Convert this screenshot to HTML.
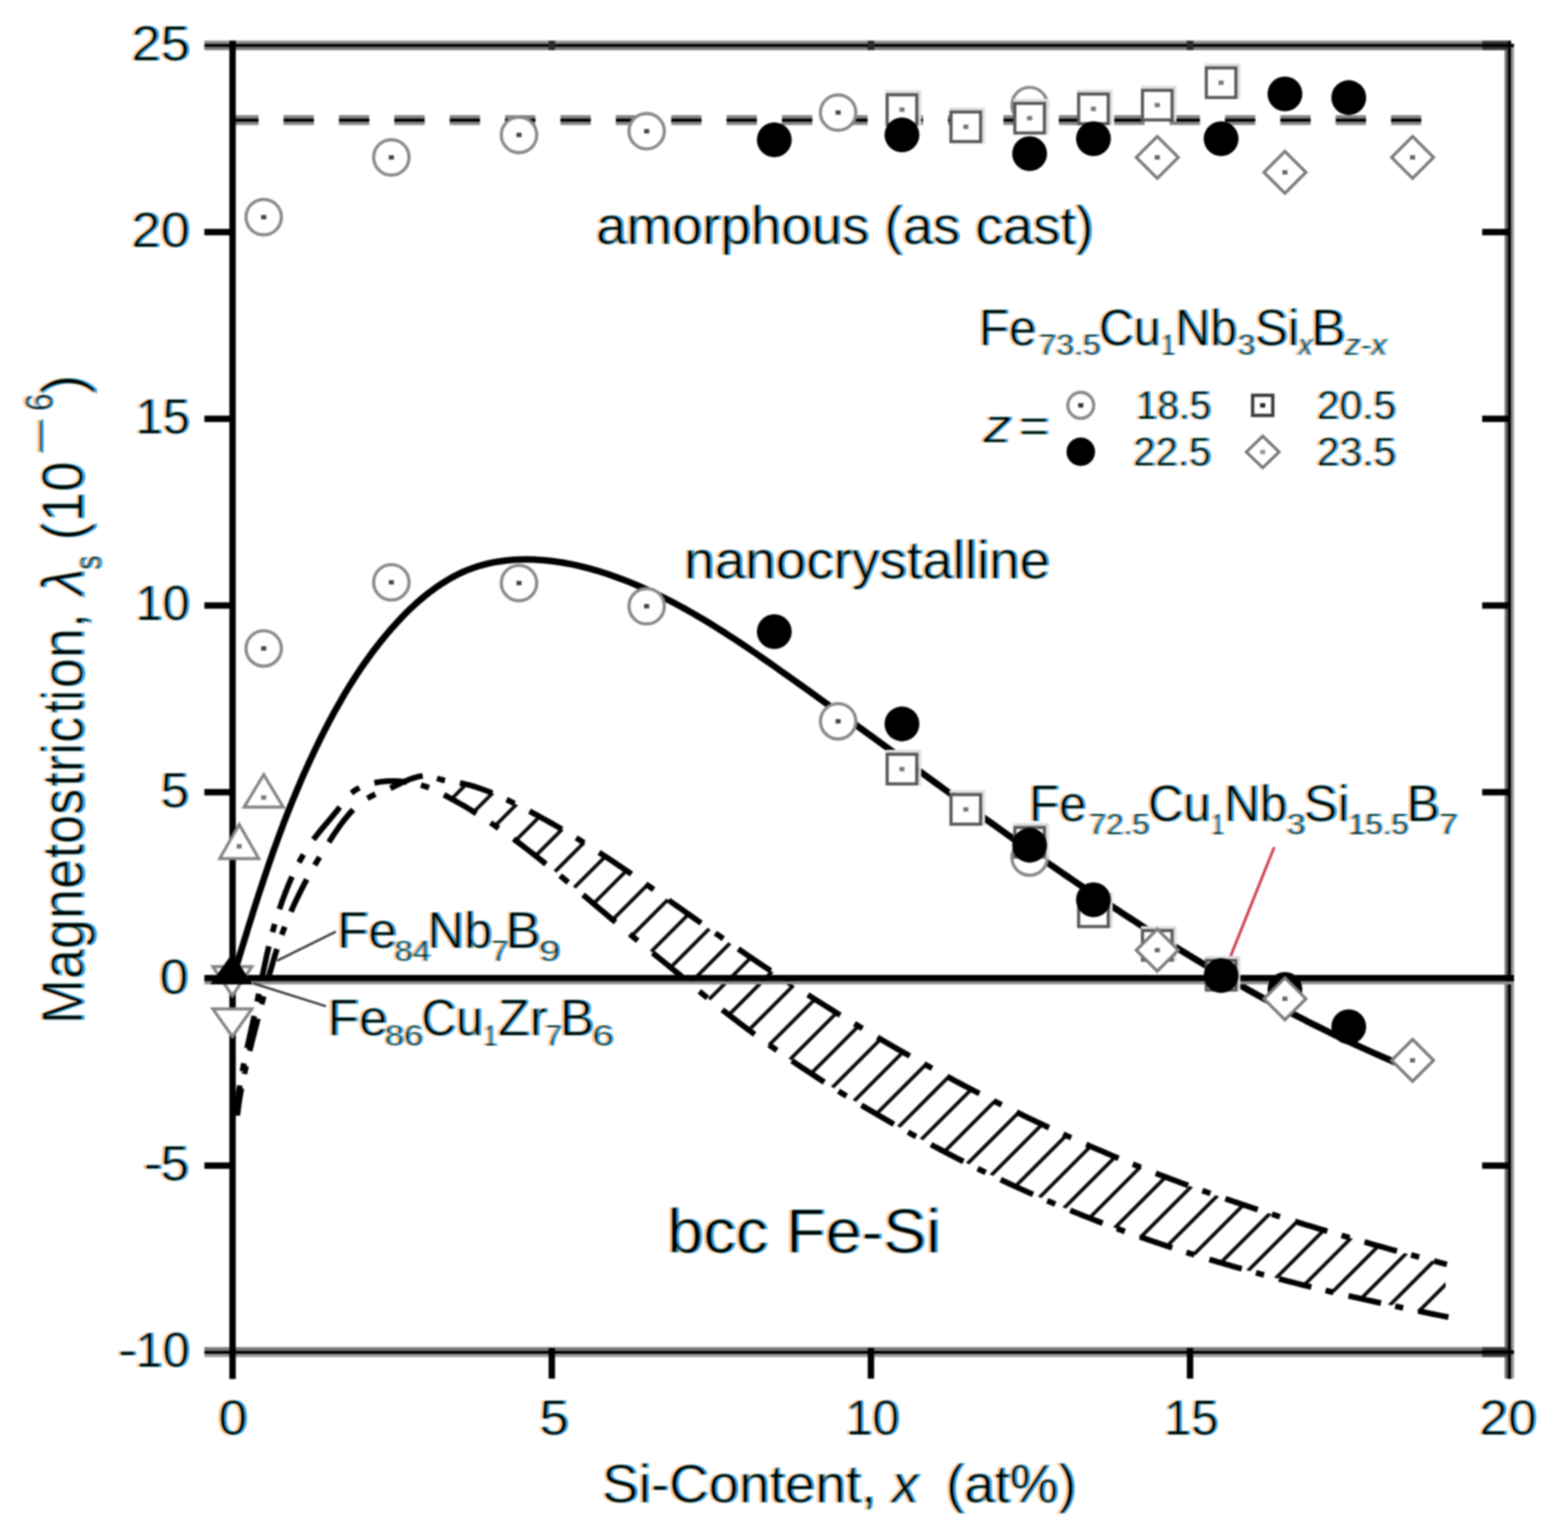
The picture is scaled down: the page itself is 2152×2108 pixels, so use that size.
<!DOCTYPE html>
<html lang="en">
<head>
<meta charset="utf-8">
<title>Magnetostriction vs Si-Content</title>
<style>
html,body{margin:0;padding:0;background:#fff;}
body{width:2152px;height:2108px;overflow:hidden;}
svg{display:block;}
#chart{filter:blur(0.9px);}
</style>
</head>
<body>
<svg xmlns="http://www.w3.org/2000/svg" width="2152" height="2108" viewBox="0 0 2152 2108">
<rect width="2152" height="2108" fill="#fff"/>
<g id="chart">
<rect width="2152" height="2108" fill="#fff"/>
<rect x="318" y="158" width="36.8" height="13.6" fill="#858585"/>
<rect x="318" y="162.8" width="36.8" height="4.2" fill="#000"/>
<rect x="389.2" y="158" width="41.6" height="13.6" fill="#858585"/>
<rect x="389.2" y="162.8" width="41.6" height="4.2" fill="#000"/>
<rect x="465.2" y="158" width="41.6" height="13.6" fill="#858585"/>
<rect x="465.2" y="162.8" width="41.6" height="4.2" fill="#000"/>
<rect x="541.2" y="158" width="41.6" height="13.6" fill="#858585"/>
<rect x="541.2" y="162.8" width="41.6" height="4.2" fill="#000"/>
<rect x="617.2" y="158" width="41.6" height="13.6" fill="#858585"/>
<rect x="617.2" y="162.8" width="41.6" height="4.2" fill="#000"/>
<rect x="693.2" y="158" width="41.6" height="13.6" fill="#858585"/>
<rect x="693.2" y="162.8" width="41.6" height="4.2" fill="#000"/>
<rect x="769.2" y="158" width="41.6" height="13.6" fill="#858585"/>
<rect x="769.2" y="162.8" width="41.6" height="4.2" fill="#000"/>
<rect x="845.2" y="158" width="41.6" height="13.6" fill="#858585"/>
<rect x="845.2" y="162.8" width="41.6" height="4.2" fill="#000"/>
<rect x="921.2" y="158" width="41.6" height="13.6" fill="#858585"/>
<rect x="921.2" y="162.8" width="41.6" height="4.2" fill="#000"/>
<rect x="997.2" y="158" width="41.6" height="13.6" fill="#858585"/>
<rect x="997.2" y="162.8" width="41.6" height="4.2" fill="#000"/>
<rect x="1073.2" y="158" width="41.6" height="13.6" fill="#858585"/>
<rect x="1073.2" y="162.8" width="41.6" height="4.2" fill="#000"/>
<rect x="1149.2" y="158" width="41.6" height="13.6" fill="#858585"/>
<rect x="1149.2" y="162.8" width="41.6" height="4.2" fill="#000"/>
<rect x="1225.2" y="158" width="41.6" height="13.6" fill="#858585"/>
<rect x="1225.2" y="162.8" width="41.6" height="4.2" fill="#000"/>
<rect x="1301.2" y="158" width="41.6" height="13.6" fill="#858585"/>
<rect x="1301.2" y="162.8" width="41.6" height="4.2" fill="#000"/>
<rect x="1377.2" y="158" width="41.6" height="13.6" fill="#858585"/>
<rect x="1377.2" y="162.8" width="41.6" height="4.2" fill="#000"/>
<rect x="1453.2" y="158" width="41.6" height="13.6" fill="#858585"/>
<rect x="1453.2" y="162.8" width="41.6" height="4.2" fill="#000"/>
<rect x="1529.2" y="158" width="41.6" height="13.6" fill="#858585"/>
<rect x="1529.2" y="162.8" width="41.6" height="4.2" fill="#000"/>
<rect x="1605.2" y="158" width="41.6" height="13.6" fill="#858585"/>
<rect x="1605.2" y="162.8" width="41.6" height="4.2" fill="#000"/>
<rect x="1681.2" y="158" width="41.6" height="13.6" fill="#858585"/>
<rect x="1681.2" y="162.8" width="41.6" height="4.2" fill="#000"/>
<rect x="1757.2" y="158" width="41.6" height="13.6" fill="#858585"/>
<rect x="1757.2" y="162.8" width="41.6" height="4.2" fill="#000"/>
<rect x="1833.2" y="158" width="41.6" height="13.6" fill="#858585"/>
<rect x="1833.2" y="162.8" width="41.6" height="4.2" fill="#000"/>
<rect x="1909.2" y="158" width="41.3" height="13.6" fill="#858585"/>
<rect x="1909.2" y="162.8" width="41.3" height="4.2" fill="#000"/>
<path d="M319.1 1343.8 L321.2 1336.7 L323.3 1329.7 L325.5 1322.6 L327.6 1315.6 L329.7 1308.6 L331.9 1301.7 L334 1294.7 L336.1 1287.7 L338.3 1280.8 L340.4 1273.8 L342.6 1266.9 L344.8 1260 L346.9 1253.1 L349.1 1246.2 L351.3 1239.4 L353.5 1232.5 L355.7 1225.7 L358 1218.8 L360.2 1212 L362.5 1205.2 L364.8 1198.4 L367.1 1191.6 L369.4 1184.8 L371.8 1178 L374.1 1171.2 L376.5 1164.5 L379 1157.7 L381.4 1151 L383.9 1144.3 L386.4 1137.6 L388.9 1130.8 L391.5 1124.1 L394.1 1117.4 L396.7 1110.8 L399.4 1104.1 L402.1 1097.4 L404.9 1090.8 L407.7 1084.1 L410.5 1077.4 L413.3 1070.8 L416.2 1064.1 L419.2 1057.5 L422.2 1050.9 L425.2 1044.2 L428.3 1037.6 L431.4 1031 L434.6 1024.4 L437.8 1017.7 L441.1 1011.1 L444.4 1004.5 L447.8 998 L451.2 991.4 L454.7 984.9 L458.2 978.3 L461.8 971.9 L465.5 965.4 L469.2 959 L472.9 952.6 L476.7 946.2 L480.6 939.9 L484.6 933.7 L488.6 927.4 L492.7 921.3 L496.8 915.1 L501 909.1 L505.3 903.1 L509.6 897.1 L514 891.2 L518.5 885.4 L523.1 879.6 L527.7 874 L532.4 868.4 L537.2 862.8 L542 857.4 L547 852 L552 846.7 L557 841.5 L562.2 836.4 L567.5 831.5 L572.8 826.7 L578.2 822 L583.7 817.4 L589.3 813 L594.9 808.8 L600.7 804.7 L606.5 800.8 L612.5 797.1 L618.5 793.5 L624.6 790.2 L630.8 787.1 L637.1 784.2 L643.5 781.6 L650 779.2 L656.6 777 L663.3 775.1 L670 773.4 L676.9 771.9 L683.8 770.7 L690.8 769.7 L697.8 768.9 L704.9 768.3 L712 768 L719.2 767.8 L726.4 767.8 L733.6 768 L740.8 768.4 L748.1 769 L755.3 769.8 L762.6 770.7 L769.8 771.8 L777 773 L784.2 774.4 L791.4 775.9 L798.6 777.6 L805.7 779.4 L812.8 781.3 L819.8 783.3 L826.8 785.5 L833.8 787.8 L840.8 790.2 L847.7 792.7 L854.6 795.2 L861.4 797.9 L868.2 800.7 L874.9 803.5 L881.6 806.4 L888.3 809.4 L894.9 812.4 L901.4 815.6 L908 818.7 L914.4 822 L920.9 825.3 L927.3 828.6 L933.7 832.1 L940 835.5 L946.3 839.1 L952.6 842.6 L958.8 846.3 L965 849.9 L971.2 853.7 L977.3 857.4 L983.4 861.2 L989.5 865.1 L995.6 868.9 L1001.7 872.9 L1007.7 876.8 L1013.7 880.8 L1019.7 884.8 L1025.7 888.8 L1031.7 892.9 L1037.6 896.9 L1043.5 901 L1049.5 905.2 L1055.4 909.3 L1061.3 913.4 L1067.2 917.6 L1073.1 921.8 L1079 926 L1084.9 930.1 L1090.8 934.3 L1096.6 938.5 L1102.5 942.7 L1108.4 946.9 L1114.3 951.2 L1120.1 955.4 L1126 959.6 L1131.9 963.8 L1137.7 968.1 L1143.6 972.3 L1149.5 976.5 L1155.3 980.8 L1161.2 985 L1167 989.3 L1172.9 993.5 L1178.7 997.8 L1184.6 1002 L1190.4 1006.3 L1196.3 1010.5 L1202.2 1014.8 L1208 1019.1 L1213.9 1023.3 L1219.7 1027.6 L1225.6 1031.8 L1231.4 1036.1 L1237.3 1040.4 L1243.1 1044.6 L1249 1048.9 L1254.8 1053.2 L1260.7 1057.4 L1266.5 1061.7 L1272.4 1065.9 L1278.2 1070.2 L1284.1 1074.5 L1290 1078.7 L1295.8 1083 L1301.7 1087.2 L1307.6 1091.5 L1313.4 1095.7 L1319.3 1100 L1325.2 1104.2 L1331 1108.4 L1336.9 1112.7 L1342.8 1116.9 L1348.7 1121.1 L1354.6 1125.3 L1360.5 1129.5 L1366.3 1133.7 L1372.2 1137.9 L1378.1 1142.1 L1384 1146.3 L1389.9 1150.5 L1395.9 1154.7 L1401.8 1158.9 L1407.7 1163 L1413.6 1167.2 L1419.5 1171.3 L1425.5 1175.5 L1431.4 1179.6 L1437.3 1183.8 L1443.3 1187.9 L1449.2 1192 L1455.2 1196.1 L1461.2 1200.2 L1467.1 1204.3 L1473.1 1208.4 L1479.1 1212.4 L1485.1 1216.5 L1491 1220.5 L1497 1224.6 L1503 1228.6 L1509.1 1232.6 L1515.1 1236.6 L1521.1 1240.6 L1527.1 1244.6 L1533.2 1248.6 L1539.2 1252.5 L1545.2 1256.5 L1551.3 1260.4 L1557.4 1264.3 L1563.4 1268.3 L1569.5 1272.2 L1575.6 1276 L1581.7 1279.9 L1587.8 1283.8 L1593.9 1287.6 L1600 1291.4 L1606.2 1295.3 L1612.3 1299.1 L1618.5 1302.8 L1624.6 1306.6 L1630.8 1310.4 L1636.9 1314.1 L1643.1 1317.8 L1649.3 1321.6 L1655.5 1325.2 L1661.7 1328.9 L1668 1332.6 L1674.2 1336.2 L1680.4 1339.8 L1686.7 1343.5 L1692.9 1347 L1699.2 1350.6 L1705.5 1354.2 L1711.8 1357.7 L1718.1 1361.2 L1724.4 1364.7 L1730.7 1368.2 L1737.1 1371.7 L1743.4 1375.1 L1749.8 1378.5 L1756.1 1381.9 L1762.5 1385.3 L1768.9 1388.7 L1775.3 1392 L1781.8 1395.3 L1788.2 1398.6 L1794.6 1401.9 L1801.1 1405.2 L1807.6 1408.4 L1814 1411.6 L1820.5 1414.8 L1827 1418 L1833.6 1421.1 L1840.1 1424.3 L1846.7 1427.4 L1853.2 1430.4 L1859.8 1433.5 L1866.4 1436.5 L1873 1439.5 L1879.6 1442.5 L1886.2 1445.5 L1892.9 1448.4 L1899.6 1451.3 L1906.2 1454.2 L1912.9 1457 L1919.6 1459.9 L1926.3 1462.7 L1933.1 1465.4 L1939.8 1468.2" fill="none" stroke="#000" stroke-width="9" stroke-linejoin="round"/>
<clipPath id="band"><path d="M601.6 1068.7 L603.9 1069.5 L606.1 1070.1 L608.3 1070.7 L610.6 1071.3 L612.8 1071.7 L615 1072.1 L617.3 1072.5 L619.5 1072.8 L621.7 1073.2 L623.9 1073.5 L626.2 1073.8 L628.4 1074.2 L630.6 1074.5 L632.8 1074.9 L635.1 1075.4 L637.3 1075.8 L639.5 1076.3 L641.7 1076.9 L643.9 1077.4 L646.1 1078 L648.4 1078.6 L650.6 1079.3 L652.8 1080 L655 1080.7 L657.2 1081.4 L659.4 1082.2 L661.6 1083 L663.8 1083.8 L666 1084.6 L668.2 1085.5 L670.4 1086.3 L672.6 1087.2 L674.8 1088.2 L677 1089.1 L679.2 1090 L681.4 1091 L683.5 1092 L685.7 1092.9 L687.9 1093.9 L690.1 1094.9 L692.3 1096 L694.4 1097 L696.6 1098 L698.8 1099.1 L700.9 1100.1 L703.1 1101.2 L705.3 1102.3 L707.4 1103.3 L709.6 1104.4 L711.7 1105.5 L713.9 1106.6 L716 1107.7 L718.2 1108.8 L720.3 1109.9 L722.5 1111 L724.6 1112.1 L726.7 1113.3 L728.9 1114.4 L731 1115.5 L733.1 1116.7 L735.3 1117.8 L737.4 1119 L739.5 1120.1 L741.6 1121.3 L743.7 1122.5 L745.9 1123.6 L748 1124.8 L750.1 1126 L752.2 1127.2 L754.3 1128.4 L756.4 1129.5 L758.4 1130.7 L760.5 1131.9 L762.6 1133.2 L764.7 1134.4 L766.8 1135.6 L768.9 1136.8 L770.9 1138 L773 1139.2 L775.1 1140.5 L777.1 1141.7 L779.2 1142.9 L781.2 1144.2 L783.3 1145.4 L785.3 1146.6 L787.4 1147.9 L789.4 1149.1 L791.5 1150.4 L793.5 1151.6 L795.5 1152.9 L797.5 1154.2 L799.6 1155.4 L801.6 1156.7 L803.6 1158 L805.6 1159.2 L807.6 1160.5 L809.7 1161.8 L811.7 1163.1 L813.7 1164.4 L815.7 1165.6 L817.7 1166.9 L819.7 1168.2 L821.7 1169.5 L823.7 1170.8 L825.7 1172.1 L827.6 1173.4 L829.6 1174.7 L831.6 1176 L833.6 1177.3 L835.6 1178.6 L837.5 1179.9 L839.5 1181.2 L841.5 1182.6 L843.5 1183.9 L845.4 1185.2 L847.4 1186.5 L849.4 1187.8 L851.3 1189.2 L853.3 1190.5 L855.2 1191.8 L857.2 1193.1 L859.2 1194.5 L861.1 1195.8 L863.1 1197.1 L865 1198.5 L867 1199.8 L868.9 1201.2 L870.9 1202.5 L872.8 1203.8 L874.7 1205.2 L876.7 1206.5 L878.6 1207.9 L880.6 1209.2 L882.5 1210.6 L884.4 1211.9 L886.4 1213.3 L888.3 1214.6 L890.2 1216 L892.2 1217.3 L894.1 1218.7 L896 1220 L898 1221.4 L899.9 1222.7 L901.8 1224.1 L903.7 1225.4 L905.7 1226.8 L907.6 1228.2 L909.5 1229.5 L911.4 1230.9 L913.4 1232.2 L915.3 1233.6 L917.2 1235 L919.1 1236.3 L921.1 1237.7 L923 1239.1 L924.9 1240.4 L926.8 1241.8 L928.7 1243.1 L930.7 1244.5 L932.6 1245.9 L934.5 1247.2 L936.4 1248.6 L938.3 1250 L940.3 1251.3 L942.2 1252.7 L944.1 1254 L946 1255.4 L948 1256.8 L949.9 1258.1 L951.8 1259.5 L953.7 1260.9 L955.6 1262.2 L957.6 1263.6 L959.5 1264.9 L961.4 1266.3 L963.3 1267.7 L965.3 1269 L967.2 1270.4 L969.1 1271.7 L971 1273.1 L973 1274.4 L974.9 1275.8 L976.8 1277.2 L978.8 1278.5 L980.7 1279.9 L982.6 1281.2 L984.6 1282.6 L986.5 1283.9 L988.4 1285.3 L990.4 1286.6 L992.3 1287.9 L994.2 1289.3 L996.2 1290.6 L998.1 1292 L1000.1 1293.3 L1002 1294.7 L1003.9 1296 L1005.9 1297.3 L1007.8 1298.7 L1009.8 1300 L1011.7 1301.3 L1013.7 1302.7 L1015.6 1304 L1017.6 1305.3 L1019.5 1306.7 L1021.5 1308 L1023.4 1309.3 L1025.4 1310.7 L1027.4 1312 L1029.3 1313.3 L1031.3 1314.6 L1033.2 1315.9 L1035.2 1317.3 L1037.2 1318.6 L1039.1 1319.9 L1041.1 1321.2 L1043.1 1322.5 L1045 1323.9 L1047 1325.2 L1049 1326.5 L1050.9 1327.8 L1052.9 1329.1 L1054.9 1330.4 L1056.9 1331.7 L1058.8 1333 L1060.8 1334.3 L1062.8 1335.6 L1064.8 1336.9 L1066.8 1338.2 L1068.7 1339.5 L1070.7 1340.8 L1072.7 1342.1 L1074.7 1343.4 L1076.7 1344.7 L1078.7 1346 L1080.6 1347.3 L1082.6 1348.6 L1084.6 1349.9 L1086.6 1351.2 L1088.6 1352.4 L1090.6 1353.7 L1092.6 1355 L1094.6 1356.3 L1096.6 1357.6 L1098.6 1358.8 L1100.6 1360.1 L1102.6 1361.4 L1104.6 1362.7 L1106.6 1364 L1108.6 1365.2 L1110.6 1366.5 L1112.6 1367.8 L1114.6 1369 L1116.6 1370.3 L1118.6 1371.6 L1120.6 1372.8 L1122.6 1374.1 L1124.6 1375.4 L1126.6 1376.6 L1128.6 1377.9 L1130.7 1379.1 L1132.7 1380.4 L1134.7 1381.6 L1136.7 1382.9 L1138.7 1384.1 L1140.7 1385.4 L1142.8 1386.6 L1144.8 1387.9 L1146.8 1389.1 L1148.8 1390.4 L1150.8 1391.6 L1152.9 1392.9 L1154.9 1394.1 L1156.9 1395.3 L1159 1396.6 L1161 1397.8 L1163 1399 L1165 1400.3 L1167.1 1401.5 L1169.1 1402.7 L1171.1 1404 L1173.2 1405.2 L1175.2 1406.4 L1177.2 1407.6 L1179.3 1408.9 L1181.3 1410.1 L1183.4 1411.3 L1185.4 1412.5 L1187.4 1413.7 L1189.5 1415 L1191.5 1416.2 L1193.6 1417.4 L1195.6 1418.6 L1197.7 1419.8 L1199.7 1421 L1201.8 1422.2 L1203.8 1423.4 L1205.9 1424.6 L1207.9 1425.8 L1210 1427 L1212 1428.2 L1214.1 1429.4 L1216.1 1430.6 L1218.2 1431.8 L1220.2 1433 L1222.3 1434.2 L1224.4 1435.4 L1226.4 1436.5 L1228.5 1437.7 L1230.6 1438.9 L1232.6 1440.1 L1234.7 1441.3 L1236.7 1442.5 L1238.8 1443.6 L1240.9 1444.8 L1242.9 1446 L1245 1447.2 L1247.1 1448.3 L1249.2 1449.5 L1251.2 1450.7 L1253.3 1451.8 L1255.4 1453 L1257.4 1454.1 L1259.5 1455.3 L1261.6 1456.5 L1263.7 1457.6 L1265.8 1458.8 L1267.8 1459.9 L1269.9 1461.1 L1272 1462.2 L1274.1 1463.4 L1276.2 1464.5 L1278.2 1465.7 L1280.3 1466.8 L1282.4 1468 L1284.5 1469.1 L1286.6 1470.2 L1288.7 1471.4 L1290.8 1472.5 L1292.9 1473.6 L1295 1474.8 L1297 1475.9 L1299.1 1477 L1301.2 1478.1 L1303.3 1479.3 L1305.4 1480.4 L1307.5 1481.5 L1309.6 1482.6 L1311.7 1483.8 L1313.8 1484.9 L1315.9 1486 L1318 1487.1 L1320.1 1488.2 L1322.2 1489.3 L1324.3 1490.4 L1326.4 1491.5 L1328.5 1492.6 L1330.7 1493.7 L1332.8 1494.8 L1334.9 1495.9 L1337 1497 L1339.1 1498.1 L1341.2 1499.2 L1343.3 1500.3 L1345.4 1501.4 L1347.5 1502.5 L1349.7 1503.5 L1351.8 1504.6 L1353.9 1505.7 L1356 1506.8 L1358.1 1507.9 L1360.3 1508.9 L1362.4 1510 L1364.5 1511.1 L1366.6 1512.2 L1368.7 1513.2 L1370.9 1514.3 L1373 1515.3 L1375.1 1516.4 L1377.2 1517.5 L1379.4 1518.5 L1381.5 1519.6 L1383.6 1520.6 L1385.8 1521.7 L1387.9 1522.7 L1390 1523.8 L1392.2 1524.8 L1394.3 1525.9 L1396.4 1526.9 L1398.6 1528 L1400.7 1529 L1402.8 1530 L1405 1531.1 L1407.1 1532.1 L1409.2 1533.1 L1411.4 1534.2 L1413.5 1535.2 L1415.7 1536.2 L1417.8 1537.2 L1420 1538.3 L1422.1 1539.3 L1424.2 1540.3 L1426.4 1541.3 L1428.5 1542.3 L1430.7 1543.3 L1432.8 1544.3 L1435 1545.4 L1437.1 1546.4 L1439.3 1547.4 L1441.4 1548.4 L1443.6 1549.4 L1445.7 1550.4 L1447.9 1551.4 L1450.1 1552.3 L1452.2 1553.3 L1454.4 1554.3 L1456.5 1555.3 L1458.7 1556.3 L1460.9 1557.3 L1463 1558.3 L1465.2 1559.2 L1467.3 1560.2 L1469.5 1561.2 L1471.7 1562.2 L1473.8 1563.1 L1476 1564.1 L1478.2 1565.1 L1480.3 1566 L1482.5 1567 L1484.7 1567.9 L1486.8 1568.9 L1489 1569.9 L1491.2 1570.8 L1493.3 1571.8 L1495.5 1572.7 L1497.7 1573.7 L1499.9 1574.6 L1502 1575.5 L1504.2 1576.5 L1506.4 1577.4 L1508.6 1578.4 L1510.7 1579.3 L1512.9 1580.2 L1515.1 1581.2 L1517.3 1582.1 L1519.5 1583 L1521.7 1583.9 L1523.8 1584.9 L1526 1585.8 L1528.2 1586.7 L1530.4 1587.6 L1532.6 1588.5 L1534.8 1589.4 L1536.9 1590.3 L1539.1 1591.2 L1541.3 1592.1 L1543.5 1593 L1545.7 1593.9 L1547.9 1594.8 L1550.1 1595.7 L1552.3 1596.6 L1554.5 1597.5 L1556.7 1598.4 L1558.9 1599.3 L1561.1 1600.2 L1563.3 1601.1 L1565.5 1601.9 L1567.7 1602.8 L1569.9 1603.7 L1572.1 1604.6 L1574.3 1605.4 L1576.5 1606.3 L1578.7 1607.2 L1580.9 1608 L1583.1 1608.9 L1585.3 1609.7 L1587.5 1610.6 L1589.7 1611.5 L1591.9 1612.3 L1594.1 1613.2 L1596.3 1614 L1598.5 1614.8 L1600.7 1615.7 L1602.9 1616.5 L1605.1 1617.4 L1607.4 1618.2 L1609.6 1619 L1611.8 1619.9 L1614 1620.7 L1616.2 1621.5 L1618.4 1622.4 L1620.6 1623.2 L1622.9 1624 L1625.1 1624.8 L1627.3 1625.7 L1629.5 1626.5 L1631.7 1627.3 L1633.9 1628.1 L1636.2 1628.9 L1638.4 1629.7 L1640.6 1630.5 L1642.8 1631.3 L1645.1 1632.1 L1647.3 1632.9 L1649.5 1633.7 L1651.7 1634.5 L1654 1635.3 L1656.2 1636.1 L1658.4 1636.9 L1660.6 1637.7 L1662.9 1638.5 L1665.1 1639.3 L1667.3 1640.1 L1669.6 1640.8 L1671.8 1641.6 L1674 1642.4 L1676.3 1643.2 L1678.5 1644 L1680.7 1644.7 L1683 1645.5 L1685.2 1646.3 L1687.4 1647 L1689.7 1647.8 L1691.9 1648.6 L1694.2 1649.3 L1696.4 1650.1 L1698.6 1650.8 L1700.9 1651.6 L1703.1 1652.4 L1705.4 1653.1 L1707.6 1653.9 L1709.8 1654.6 L1712.1 1655.4 L1714.3 1656.1 L1716.6 1656.9 L1718.8 1657.6 L1721.1 1658.3 L1723.3 1659.1 L1725.6 1659.8 L1727.8 1660.6 L1730.1 1661.3 L1732.3 1662 L1734.6 1662.8 L1736.8 1663.5 L1739.1 1664.2 L1741.3 1664.9 L1743.6 1665.7 L1745.8 1666.4 L1748.1 1667.1 L1750.3 1667.8 L1752.6 1668.6 L1754.9 1669.3 L1757.1 1670 L1759.4 1670.7 L1761.6 1671.4 L1763.9 1672.1 L1766.2 1672.8 L1768.4 1673.5 L1770.7 1674.3 L1772.9 1675 L1775.2 1675.7 L1777.5 1676.4 L1779.7 1677.1 L1782 1677.8 L1784.3 1678.5 L1786.5 1679.2 L1788.8 1679.9 L1791.1 1680.6 L1793.3 1681.2 L1795.6 1681.9 L1797.9 1682.6 L1800.1 1683.3 L1802.4 1684 L1804.7 1684.7 L1806.9 1685.4 L1809.2 1686.1 L1811.5 1686.7 L1813.8 1687.4 L1816 1688.1 L1818.3 1688.8 L1820.6 1689.4 L1822.9 1690.1 L1825.1 1690.8 L1827.4 1691.5 L1829.7 1692.1 L1832 1692.8 L1834.2 1693.5 L1836.5 1694.1 L1838.8 1694.8 L1841.1 1695.5 L1843.4 1696.1 L1845.6 1696.8 L1847.9 1697.5 L1850.2 1698.1 L1852.5 1698.8 L1854.8 1699.4 L1857.1 1700.1 L1859.3 1700.8 L1861.6 1701.4 L1863.9 1702.1 L1866.2 1702.7 L1868.5 1703.4 L1870.8 1704 L1873.1 1704.7 L1875.3 1705.3 L1877.6 1706 L1879.9 1706.6 L1882.2 1707.2 L1884.5 1707.9 L1886.8 1708.5 L1889.1 1709.2 L1891.4 1709.8 L1893.7 1710.5 L1896 1711.1 L1898.3 1711.7 L1900.6 1712.4 L1902.9 1713 L1905.2 1713.6 L1907.4 1714.3 L1909.7 1714.9 L1912 1715.5 L1914.3 1716.2 L1916.6 1716.8 L1918.9 1717.4 L1921.2 1718 L1923.5 1718.7 L1925.8 1719.3 L1928.1 1719.9 L1930.4 1720.5 L1932.7 1721.2 L1935 1721.8 L1937.4 1722.4 L1939.7 1723 L1942 1723.6 L1944.3 1724.3 L1946.6 1724.9 L1948.9 1725.5 L1951.2 1726.1 L1953.5 1726.7 L1955.8 1727.3 L1958.1 1727.9 L1960.4 1728.6 L1962.7 1729.2 L1965 1729.8 L1967.3 1730.4 L1969.7 1731 L1972 1731.6 L1974.3 1732.2 L1976.6 1732.8 L1978.9 1733.4 L1981.2 1734 L1983.5 1734.6 L1985.8 1735.2 L1984 1735.2 L1984 1807.6 L1987.9 1807.6 L1985.5 1807.2 L1983.1 1806.7 L1980.7 1806.2 L1978.3 1805.7 L1975.9 1805.2 L1973.4 1804.7 L1971 1804.3 L1968.6 1803.8 L1966.2 1803.3 L1963.8 1802.8 L1961.4 1802.3 L1959 1801.8 L1956.6 1801.3 L1954.2 1800.8 L1951.9 1800.3 L1949.5 1799.8 L1947.1 1799.3 L1944.7 1798.9 L1942.3 1798.4 L1939.9 1797.9 L1937.5 1797.4 L1935.1 1796.9 L1932.7 1796.4 L1930.3 1795.8 L1927.9 1795.3 L1925.5 1794.8 L1923.1 1794.3 L1920.7 1793.8 L1918.3 1793.3 L1915.9 1792.8 L1913.5 1792.3 L1911.1 1791.8 L1908.7 1791.3 L1906.4 1790.8 L1904 1790.2 L1901.6 1789.7 L1899.2 1789.2 L1896.8 1788.7 L1894.4 1788.2 L1892 1787.6 L1889.6 1787.1 L1887.2 1786.6 L1884.8 1786.1 L1882.5 1785.5 L1880.1 1785 L1877.7 1784.5 L1875.3 1784 L1872.9 1783.4 L1870.5 1782.9 L1868.2 1782.4 L1865.8 1781.8 L1863.4 1781.3 L1861 1780.7 L1858.6 1780.2 L1856.2 1779.7 L1853.9 1779.1 L1851.5 1778.6 L1849.1 1778 L1846.7 1777.5 L1844.3 1776.9 L1842 1776.4 L1839.6 1775.8 L1837.2 1775.3 L1834.8 1774.7 L1832.4 1774.2 L1830.1 1773.6 L1827.7 1773 L1825.3 1772.5 L1822.9 1771.9 L1820.6 1771.3 L1818.2 1770.8 L1815.8 1770.2 L1813.5 1769.6 L1811.1 1769.1 L1808.7 1768.5 L1806.3 1767.9 L1804 1767.4 L1801.6 1766.8 L1799.2 1766.2 L1796.9 1765.6 L1794.5 1765 L1792.1 1764.4 L1789.8 1763.9 L1787.4 1763.3 L1785 1762.7 L1782.7 1762.1 L1780.3 1761.5 L1777.9 1760.9 L1775.6 1760.3 L1773.2 1759.7 L1770.8 1759.1 L1768.5 1758.5 L1766.1 1757.9 L1763.8 1757.3 L1761.4 1756.7 L1759 1756.1 L1756.7 1755.5 L1754.3 1754.8 L1752 1754.2 L1749.6 1753.6 L1747.3 1753 L1744.9 1752.4 L1742.6 1751.8 L1740.2 1751.1 L1737.8 1750.5 L1735.5 1749.9 L1733.1 1749.2 L1730.8 1748.6 L1728.4 1748 L1726.1 1747.3 L1723.7 1746.7 L1721.4 1746.1 L1719 1745.4 L1716.7 1744.8 L1714.3 1744.1 L1712 1743.5 L1709.7 1742.8 L1707.3 1742.2 L1705 1741.5 L1702.6 1740.9 L1700.3 1740.2 L1697.9 1739.5 L1695.6 1738.9 L1693.3 1738.2 L1690.9 1737.5 L1688.6 1736.9 L1686.2 1736.2 L1683.9 1735.5 L1681.6 1734.8 L1679.2 1734.2 L1676.9 1733.5 L1674.6 1732.8 L1672.2 1732.1 L1669.9 1731.4 L1667.6 1730.7 L1665.2 1730 L1662.9 1729.3 L1660.6 1728.6 L1658.2 1727.9 L1655.9 1727.2 L1653.6 1726.5 L1651.3 1725.8 L1648.9 1725.1 L1646.6 1724.4 L1644.3 1723.7 L1642 1723 L1639.6 1722.2 L1637.3 1721.5 L1635 1720.8 L1632.7 1720.1 L1630.4 1719.3 L1628 1718.6 L1625.7 1717.9 L1623.4 1717.1 L1621.1 1716.4 L1618.8 1715.7 L1616.5 1714.9 L1614.1 1714.2 L1611.8 1713.4 L1609.5 1712.7 L1607.2 1711.9 L1604.9 1711.2 L1602.6 1710.4 L1600.3 1709.6 L1598 1708.9 L1595.7 1708.1 L1593.4 1707.3 L1591.1 1706.6 L1588.8 1705.8 L1586.4 1705 L1584.1 1704.2 L1581.8 1703.4 L1579.5 1702.7 L1577.2 1701.9 L1574.9 1701.1 L1572.6 1700.3 L1570.3 1699.5 L1568.1 1698.7 L1565.8 1697.9 L1563.5 1697.1 L1561.2 1696.3 L1558.9 1695.5 L1556.6 1694.6 L1554.3 1693.8 L1552 1693 L1549.7 1692.2 L1547.4 1691.4 L1545.1 1690.5 L1542.9 1689.7 L1540.6 1688.9 L1538.3 1688 L1536 1687.2 L1533.7 1686.3 L1531.4 1685.5 L1529.2 1684.6 L1526.9 1683.8 L1524.6 1682.9 L1522.3 1682.1 L1520 1681.2 L1517.8 1680.4 L1515.5 1679.5 L1513.2 1678.6 L1510.9 1677.8 L1508.7 1676.9 L1506.4 1676 L1504.1 1675.1 L1501.9 1674.2 L1499.6 1673.4 L1497.3 1672.5 L1495.1 1671.6 L1492.8 1670.7 L1490.5 1669.8 L1488.3 1668.9 L1486 1668 L1483.7 1667.1 L1481.5 1666.2 L1479.2 1665.3 L1477 1664.3 L1474.7 1663.4 L1472.5 1662.5 L1470.2 1661.6 L1467.9 1660.7 L1465.7 1659.7 L1463.4 1658.8 L1461.2 1657.9 L1458.9 1656.9 L1456.7 1656 L1454.4 1655.1 L1452.2 1654.1 L1450 1653.2 L1447.7 1652.2 L1445.5 1651.3 L1443.2 1650.3 L1441 1649.3 L1438.7 1648.4 L1436.5 1647.4 L1434.3 1646.5 L1432 1645.5 L1429.8 1644.5 L1427.6 1643.5 L1425.3 1642.6 L1423.1 1641.6 L1420.9 1640.6 L1418.6 1639.6 L1416.4 1638.6 L1414.2 1637.6 L1412 1636.6 L1409.7 1635.6 L1407.5 1634.6 L1405.3 1633.6 L1403.1 1632.6 L1400.8 1631.6 L1398.6 1630.6 L1396.4 1629.6 L1394.2 1628.6 L1392 1627.6 L1389.8 1626.6 L1387.5 1625.5 L1385.3 1624.5 L1383.1 1623.5 L1380.9 1622.5 L1378.7 1621.4 L1376.5 1620.4 L1374.3 1619.4 L1372.1 1618.3 L1369.9 1617.3 L1367.7 1616.2 L1365.5 1615.2 L1363.3 1614.1 L1361.1 1613.1 L1358.9 1612 L1356.7 1611 L1354.5 1609.9 L1352.3 1608.8 L1350.1 1607.8 L1347.9 1606.7 L1345.7 1605.6 L1343.5 1604.6 L1341.3 1603.5 L1339.1 1602.4 L1336.9 1601.3 L1334.8 1600.2 L1332.6 1599.2 L1330.4 1598.1 L1328.2 1597 L1326 1595.9 L1323.9 1594.8 L1321.7 1593.7 L1319.5 1592.6 L1317.3 1591.5 L1315.2 1590.4 L1313 1589.3 L1310.8 1588.2 L1308.6 1587.1 L1306.5 1585.9 L1304.3 1584.8 L1302.1 1583.7 L1300 1582.6 L1297.8 1581.5 L1295.7 1580.3 L1293.5 1579.2 L1291.3 1578.1 L1289.2 1576.9 L1287 1575.8 L1284.9 1574.7 L1282.7 1573.5 L1280.6 1572.4 L1278.4 1571.2 L1276.3 1570.1 L1274.1 1568.9 L1272 1567.8 L1269.8 1566.6 L1267.7 1565.4 L1265.5 1564.3 L1263.4 1563.1 L1261.2 1562 L1259.1 1560.8 L1257 1559.6 L1254.8 1558.4 L1252.7 1557.3 L1250.6 1556.1 L1248.4 1554.9 L1246.3 1553.7 L1244.2 1552.6 L1242 1551.4 L1239.9 1550.2 L1237.8 1549 L1235.7 1547.8 L1233.5 1546.6 L1231.4 1545.4 L1229.3 1544.2 L1227.2 1543 L1225.1 1541.8 L1223 1540.6 L1220.8 1539.4 L1218.7 1538.2 L1216.6 1537 L1214.5 1535.7 L1212.4 1534.5 L1210.3 1533.3 L1208.2 1532.1 L1206.1 1530.8 L1204 1529.6 L1201.9 1528.4 L1199.8 1527.2 L1197.7 1525.9 L1195.6 1524.7 L1193.5 1523.4 L1191.4 1522.2 L1189.3 1521 L1187.2 1519.7 L1185.1 1518.5 L1183 1517.2 L1180.9 1516 L1178.9 1514.7 L1176.8 1513.4 L1174.7 1512.2 L1172.6 1510.9 L1170.5 1509.7 L1168.5 1508.4 L1166.4 1507.1 L1164.3 1505.8 L1162.2 1504.6 L1160.2 1503.3 L1158.1 1502 L1156 1500.7 L1154 1499.4 L1151.9 1498.2 L1149.8 1496.9 L1147.8 1495.6 L1145.7 1494.3 L1143.6 1493 L1141.6 1491.7 L1139.5 1490.4 L1137.5 1489.1 L1135.4 1487.8 L1133.4 1486.4 L1131.3 1485.1 L1129.3 1483.8 L1127.2 1482.5 L1125.2 1481.2 L1123.1 1479.8 L1121.1 1478.5 L1119.1 1477.2 L1117 1475.9 L1115 1474.5 L1112.9 1473.2 L1110.9 1471.8 L1108.9 1470.5 L1106.9 1469.2 L1104.8 1467.8 L1102.8 1466.5 L1100.8 1465.1 L1098.7 1463.7 L1096.7 1462.4 L1094.7 1461 L1092.7 1459.7 L1090.7 1458.3 L1088.7 1456.9 L1086.6 1455.6 L1084.6 1454.2 L1082.6 1452.8 L1080.6 1451.4 L1078.6 1450 L1076.6 1448.6 L1074.6 1447.3 L1072.6 1445.9 L1070.6 1444.5 L1068.6 1443.1 L1066.6 1441.7 L1064.6 1440.3 L1062.6 1438.9 L1060.6 1437.4 L1058.6 1436 L1056.6 1434.6 L1054.6 1433.2 L1052.6 1431.8 L1050.7 1430.4 L1048.7 1428.9 L1046.7 1427.5 L1044.7 1426.1 L1042.7 1424.6 L1040.8 1423.2 L1038.8 1421.8 L1036.8 1420.3 L1034.8 1418.9 L1032.9 1417.4 L1030.9 1416 L1028.9 1414.5 L1027 1413 L1025 1411.6 L1023.1 1410.1 L1021.1 1408.6 L1019.1 1407.2 L1017.2 1405.7 L1015.2 1404.2 L1013.3 1402.7 L1011.3 1401.3 L1009.4 1399.8 L1007.4 1398.3 L1005.5 1396.8 L1003.6 1395.3 L1001.6 1393.8 L999.7 1392.3 L997.7 1390.8 L995.8 1389.3 L993.9 1387.8 L991.9 1386.3 L990 1384.7 L988.1 1383.2 L986.2 1381.7 L984.2 1380.2 L982.3 1378.6 L980.4 1377.1 L978.5 1375.6 L976.6 1374 L974.6 1372.5 L972.7 1370.9 L970.8 1369.4 L968.9 1367.8 L967 1366.3 L965.1 1364.7 L963.2 1363.2 L961.3 1361.6 L959.4 1360 L957.5 1358.5 L955.6 1356.9 L953.7 1355.3 L951.8 1353.7 L949.9 1352.2 L948 1350.6 L946.1 1349 L944.2 1347.4 L942.4 1345.9 L940.5 1344.3 L938.6 1342.7 L936.7 1341.2 L934.8 1339.6 L932.9 1338.1 L931.1 1336.5 L929.2 1335 L927.3 1333.4 L925.4 1331.9 L923.6 1330.3 L921.7 1328.8 L919.8 1327.3 L918 1325.7 L916.1 1324.2 L914.2 1322.7 L912.4 1321.2 L910.5 1319.7 L908.6 1318.1 L906.8 1316.6 L904.9 1315.1 L903.1 1313.6 L901.2 1312.1 L899.3 1310.6 L897.5 1309.1 L895.6 1307.5 L893.8 1306 L891.9 1304.5 L890 1303 L888.2 1301.5 L886.3 1300 L884.5 1298.5 L882.6 1297 L880.8 1295.5 L878.9 1293.9 L877.1 1292.4 L875.2 1290.9 L873.4 1289.4 L871.5 1287.9 L869.7 1286.3 L867.8 1284.8 L866 1283.3 L864.1 1281.8 L862.3 1280.2 L860.4 1278.7 L858.6 1277.1 L856.7 1275.6 L854.9 1274.1 L853 1272.5 L851.2 1271 L849.3 1269.4 L847.5 1267.9 L845.6 1266.3 L843.8 1264.8 L841.9 1263.2 L840.1 1261.6 L838.2 1260.1 L836.4 1258.5 L834.5 1257 L832.6 1255.4 L830.8 1253.8 L828.9 1252.3 L827.1 1250.7 L825.2 1249.1 L823.4 1247.6 L821.5 1246 L819.7 1244.4 L817.8 1242.9 L816 1241.3 L814.1 1239.7 L812.2 1238.1 L810.4 1236.6 L808.5 1235 L806.7 1233.4 L804.8 1231.9 L802.9 1230.3 L801.1 1228.7 L799.2 1227.1 L797.3 1225.6 L795.5 1224 L793.6 1222.4 L791.7 1220.9 L789.9 1219.3 L788 1217.7 L786.1 1216.2 L784.2 1214.6 L782.4 1213 L780.5 1211.5 L778.6 1209.9 L776.7 1208.3 L774.8 1206.8 L773 1205.2 L771.1 1203.7 L769.2 1202.1 L767.3 1200.6 L765.4 1199 L763.5 1197.5 L761.6 1195.9 L759.7 1194.4 L757.8 1192.8 L756 1191.3 L754.1 1189.7 L752.2 1188.2 L750.3 1186.7 L748.3 1185.1 L746.4 1183.6 L744.5 1182.1 L742.6 1180.5 L740.7 1179 L738.8 1177.5 L736.9 1176 L735 1174.5 L733 1173 L731.1 1171.4 L729.2 1169.9 L727.3 1168.4 L725.3 1166.9 L723.4 1165.5 L721.5 1164 L719.5 1162.5 L717.6 1161 L715.6 1159.5 L713.7 1158 L711.7 1156.6 L709.8 1155.1 L707.8 1153.7 L705.9 1152.2 L703.9 1150.7 L701.9 1149.3 L700 1147.9 L698 1146.4 L696 1145 L694 1143.6 L692.1 1142.1 L690.1 1140.7 L688.1 1139.3 L686.1 1137.9 L684.1 1136.5 L682.1 1135.1 L680.1 1133.7 L678.1 1132.3 L676 1131 L674 1129.6 L672 1128.2 L670 1126.9 L667.9 1125.5 L665.9 1124.2 L663.9 1122.8 L661.8 1121.5 L659.8 1120.2 L657.7 1118.9 L655.6 1117.6 L653.6 1116.2 L651.5 1114.9 L649.4 1113.7 L647.3 1112.4 L645.3 1111.1 L643.2 1109.8 L641.1 1108.6 L639 1107.3 L636.9 1106.1 L634.7 1104.8 L632.6 1103.6 L630.5 1102.4 L628.4 1101.2 L626.2 1100 L624.1 1098.8 L621.9 1097.6 L619.8 1096.4 L617.6 1095.2 L615.5 1094.1 L613.3 1092.9 L611.1 1091.8 L608.9 1090.6 L606.7 1089.5 L604.5 1088.4 L602.3 1087.3 L600.1 1086.2 L597.9 1085.2 L595.7 1084.2 L593.5 1083.2 L591.2 1082.2 L589 1081.3 L586.7 1080.4Z"/></clipPath>
<path d="M550 1166.2 L2000 -283.8 M550 1214.5 L2000 -235.5 M550 1262.9 L2000 -187.1 M550 1311.2 L2000 -138.8 M550 1359.6 L2000 -90.4 M550 1407.9 L2000 -42.1 M550 1456.3 L2000 6.3 M550 1504.7 L2000 54.7 M550 1553 L2000 103 M550 1601.3 L2000 151.3 M550 1649.7 L2000 199.7 M550 1698.1 L2000 248.1 M550 1746.4 L2000 296.4 M550 1794.8 L2000 344.8 M550 1843.1 L2000 393.1 M550 1891.4 L2000 441.4 M550 1939.8 L2000 489.8 M550 1988.2 L2000 538.2 M550 2036.5 L2000 586.5 M550 2084.8 L2000 634.8 M550 2133.2 L2000 683.2 M550 2181.6 L2000 731.6 M550 2229.9 L2000 779.9 M550 2278.2 L2000 828.2 M550 2326.6 L2000 876.6 M550 2374.9 L2000 924.9 M550 2423.3 L2000 973.3 M550 2471.7 L2000 1021.7 M550 2520 L2000 1070 M550 2568.3 L2000 1118.3 M550 2616.7 L2000 1166.7 M550 2665.1 L2000 1215.1 M550 2713.4 L2000 1263.4 M550 2761.8 L2000 1311.8 M550 2810.1 L2000 1360.1 M550 2858.4 L2000 1408.4 M550 2906.8 L2000 1456.8 M550 2955.2 L2000 1505.2 M550 3003.5 L2000 1553.5 M550 3051.8 L2000 1601.8 M550 3100.2 L2000 1650.2 M550 3148.6 L2000 1698.6 M550 3196.9 L2000 1746.9" clip-path="url(#band)" fill="none" stroke="#0c0c0c" stroke-width="5"/>
<path d="M324.4 1531 L324.8 1525.1 L325.4 1519.2 L326 1513.3 L326.7 1507.4 L327.5 1501.5 L328.3 1495.6 L329.2 1489.7 M332.7 1470.2 L333.7 1464.7 L334.8 1459.2 M339.1 1438.7 L340.4 1433.2 L341.6 1427.6 L342.8 1422 L344.1 1416.5 L345.3 1410.9 L346.5 1405.3 L347.7 1399.8 L348.9 1394.2 M353 1374.7 L354.1 1369.2 L355.2 1363.7 M359.3 1343.2 L360.4 1337.7 L361.6 1332.1 L362.8 1326.5 L364 1321 L365.2 1315.4 L366.4 1309.8 L367.7 1304.3 L369 1298.7 M374 1279.2 L375.5 1273.7 L377.1 1268.2 M383.5 1247.7 L385.4 1242.2 L387.3 1236.6 L389.4 1231 L391.5 1225.5 L393.7 1219.9 L395.9 1214.3 L398.3 1208.8 L400.8 1203.2 M410.3 1183.7 L413.3 1178.2 L416.5 1172.7 M430.1 1152.2 L434.4 1146.7 L438.8 1141.1 L443.4 1135.5 L448.1 1130 L452.8 1124.4 L457.5 1118.8 L462 1113.3 L466.4 1107.7 M482.3 1088.4 L487.8 1084.2 L493.3 1081.1 M513.8 1074.4 L519.4 1073.3 L524.9 1072.6 L530.5 1072.1 L536 1071.8 L541.6 1071.9 L547.2 1072.1 L552.7 1072.6 L558.3 1073.3 M577.8 1077.4 L583.3 1079.2 L588.8 1081.2 M609.3 1090.8 L614.9 1093.8 L620.4 1096.8 L626 1099.8 L631.5 1103 L637.1 1106.2 L642.7 1109.5 L648.2 1112.9 L653.8 1116.4 M673.3 1129.1 L678.8 1132.9 L684.3 1136.7 M704.8 1151.4 L710.4 1155.5 L715.9 1159.7 L721.5 1164 L727 1168.3 L732.6 1172.6 L738.2 1177 L743.7 1181.4 L749.3 1185.9 M768.8 1201.8 L774.3 1206.3 L779.8 1210.9 M800.3 1228.1 L805.9 1232.8 L811.4 1237.5 L817 1242.2 L822.5 1246.9 L828.1 1251.6 L833.7 1256.3 L839.2 1260.9 L844.8 1265.6 M864.3 1281.9 L869.8 1286.5 L875.3 1291 M895.8 1307.7 L901.4 1312.2 L906.9 1316.7 L912.5 1321.3 L918 1325.8 L923.6 1330.4 L929.2 1334.9 L934.7 1339.5 L940.3 1344.2 M959.8 1360.4 L965.3 1364.9 L970.8 1369.4 M991.3 1385.8 L996.9 1390.1 L1002.4 1394.4 L1008 1398.7 L1013.5 1402.9 L1019.1 1407.1 L1024.7 1411.3 L1030.2 1415.5 L1035.8 1419.6 M1055.3 1433.7 L1060.8 1437.6 L1066.3 1441.5 M1086.8 1455.7 L1092.4 1459.4 L1097.9 1463.2 L1103.5 1466.9 L1109 1470.6 L1114.6 1474.3 L1120.2 1477.9 L1125.7 1481.5 L1131.3 1485.1 M1150.8 1497.5 L1156.3 1500.9 L1161.8 1504.3 M1182.3 1516.8 L1187.9 1520.1 L1193.4 1523.4 L1199 1526.7 L1204.5 1530 L1210.1 1533.2 L1215.7 1536.4 L1221.2 1539.6 L1226.8 1542.8 M1246.3 1553.7 L1251.8 1556.8 L1257.3 1559.8 M1277.8 1570.9 L1283.4 1573.9 L1288.9 1576.8 L1294.5 1579.7 L1300 1582.6 L1305.6 1585.5 L1311.2 1588.4 L1316.7 1591.2 L1322.3 1594 M1341.8 1603.7 L1347.3 1606.4 L1352.8 1609.1 M1373.3 1618.9 L1378.9 1621.5 L1384.4 1624.1 L1390 1626.7 L1395.5 1629.2 L1401.1 1631.8 L1406.7 1634.3 L1412.2 1636.8 L1417.8 1639.2 M1437.3 1647.8 L1442.8 1650.1 L1448.3 1652.5 M1468.8 1661 L1474.4 1663.3 L1479.9 1665.5 L1485.5 1667.8 L1491 1670 L1496.6 1672.2 L1502.2 1674.4 L1507.7 1676.5 L1513.3 1678.7 M1532.8 1686 L1538.3 1688 L1543.8 1690 M1564.3 1697.4 L1569.9 1699.3 L1575.4 1701.2 L1581 1703.1 L1586.5 1705 L1592.1 1706.9 L1597.7 1708.8 L1603.2 1710.6 L1608.8 1712.4 M1628.3 1718.7 L1633.8 1720.4 L1639.3 1722.1 M1659.8 1728.4 L1665.4 1730.1 L1670.9 1731.7 L1676.5 1733.3 L1682 1735 L1687.6 1736.6 L1693.2 1738.2 L1698.7 1739.8 L1704.3 1741.3 M1723.8 1746.7 L1729.3 1748.2 L1734.8 1749.7 M1755.3 1755.1 L1760.9 1756.5 L1766.4 1758 L1772 1759.4 L1777.5 1760.8 L1783.1 1762.2 L1788.7 1763.6 L1794.2 1765 L1799.8 1766.3 M1819.3 1771 L1824.8 1772.4 L1830.3 1773.7 M1850.8 1778.4 L1856.4 1779.7 L1861.9 1780.9 L1867.5 1782.2 L1873 1783.5 L1878.6 1784.7 L1884.2 1785.9 L1889.7 1787.1 L1895.3 1788.4 M1914.8 1792.6 L1920.3 1793.7 L1925.8 1794.9 M1946.3 1799.2 L1952.2 1800.4 L1958.2 1801.6 L1964.1 1802.9 L1970.1 1804.1 L1976 1805.3 L1981.9 1806.5 L1987.9 1807.6 M325.8 1530.5 L326.4 1525.2 L327.1 1519.9 L327.8 1514.5 L328.6 1509.2 L329.5 1503.9 L330.4 1498.6 L331.3 1493.3 M335.3 1473.8 L336.5 1468.3 L337.7 1462.8 M342.6 1442.3 L344 1436.7 L345.4 1431.1 L346.8 1425.6 L348.3 1420 L349.7 1414.5 L351.2 1408.9 L352.6 1403.3 L354 1397.8 M359.1 1378.3 L360.5 1372.8 L361.9 1367.3 M367.2 1346.8 L368.7 1341.2 L370.2 1335.6 L371.8 1330.1 L373.4 1324.5 L375 1319 L376.7 1313.4 L378.4 1307.8 L380.1 1302.3 M386.7 1282.8 L388.7 1277.3 L390.8 1271.8 M399.3 1251.3 L401.7 1245.7 L404.3 1240.1 L406.9 1234.6 L409.6 1229 L412.3 1223.5 L415.2 1217.9 L418.1 1212.3 L421.1 1206.8 M432 1187.3 L435.3 1181.8 L438.6 1176.3 M451.4 1155.8 L455 1150.2 L458.6 1144.6 L462.4 1139.1 L466.3 1133.5 L470.4 1128 L474.8 1122.4 L479.5 1116.8 L484.7 1111.3 M504.2 1095.6 L509.7 1092.6 L515.2 1090 M535.7 1081.7 L541.3 1079.1 L546.8 1076.4 L552.4 1073.8 L558 1071.3 L563.5 1069 L569.1 1067.2 L574.6 1065.7 L580.2 1065 M599.7 1068.1 L605.2 1069.9 L610.7 1071.3 M631.2 1074.6 L636.8 1075.7 L642.3 1077 L647.9 1078.5 L653.5 1080.2 L659 1082.1 L664.6 1084.1 L670.1 1086.2 L675.7 1088.5 M695.2 1097.4 L700.7 1100 L706.2 1102.7 M726.7 1113.2 L732.3 1116.2 L737.8 1119.2 L743.4 1122.3 L749 1125.4 L754.5 1128.5 L760.1 1131.7 L765.6 1134.9 L771.2 1138.2 M790.7 1149.9 L796.2 1153.3 L801.7 1156.8 M822.2 1169.9 L827.8 1173.5 L833.3 1177.1 L838.9 1180.8 L844.5 1184.5 L850 1188.3 L855.6 1192 L861.1 1195.8 L866.7 1199.6 M886.2 1213.1 L891.7 1217 L897.2 1220.8 M917.7 1235.3 L923.3 1239.3 L928.8 1243.2 L934.4 1247.1 L940 1251.1 L945.5 1255 L951.1 1259 L956.6 1262.9 L962.2 1266.9 M981.7 1280.6 L987.2 1284.4 L992.7 1288.2 M1013.2 1302.3 L1018.8 1306.1 L1024.3 1309.9 L1029.9 1313.7 L1035.5 1317.4 L1041 1321.2 L1046.6 1324.9 L1052.1 1328.6 L1057.7 1332.3 M1077.2 1345.1 L1082.7 1348.6 L1088.2 1352.2 M1108.7 1365.3 L1114.3 1368.8 L1119.8 1372.3 L1125.4 1375.8 L1131 1379.3 L1136.5 1382.8 L1142.1 1386.2 L1147.6 1389.7 L1153.2 1393.1 M1172.7 1404.9 L1178.2 1408.2 L1183.7 1411.5 M1204.2 1423.6 L1209.8 1426.9 L1215.3 1430.1 L1220.9 1433.4 L1226.5 1436.6 L1232 1439.8 L1237.6 1442.9 L1243.1 1446.1 L1248.7 1449.2 M1268.2 1460.1 L1273.7 1463.2 L1279.2 1466.2 M1299.7 1477.3 L1305.3 1480.3 L1310.8 1483.3 L1316.4 1486.2 L1322 1489.2 L1327.5 1492.1 L1333.1 1495 L1338.6 1497.9 L1344.2 1500.7 M1363.7 1510.7 L1369.2 1513.5 L1374.7 1516.2 M1395.2 1526.3 L1400.8 1529 L1406.3 1531.7 L1411.9 1534.4 L1417.5 1537.1 L1423 1539.7 L1428.6 1542.3 L1434.1 1545 L1439.7 1547.6 M1459.2 1556.5 L1464.7 1559 L1470.2 1561.5 M1490.7 1570.6 L1496.3 1573 L1501.8 1575.5 L1507.4 1577.9 L1513 1580.2 L1518.5 1582.6 L1524.1 1585 L1529.6 1587.3 L1535.2 1589.6 M1554.7 1597.6 L1560.2 1599.8 L1565.7 1602 M1586.2 1610.1 L1591.8 1612.3 L1597.3 1614.4 L1602.9 1616.5 L1608.5 1618.6 L1614 1620.7 L1619.6 1622.8 L1625.1 1624.9 L1630.7 1626.9 M1650.2 1634 L1655.7 1635.9 L1661.2 1637.9 M1681.7 1645.1 L1687.3 1647 L1692.8 1648.9 L1698.4 1650.8 L1704 1652.6 L1709.5 1654.5 L1715.1 1656.4 L1720.6 1658.2 L1726.2 1660 M1745.7 1666.3 L1751.2 1668.1 L1756.7 1669.9 M1777.2 1676.3 L1782.8 1678 L1788.3 1679.7 L1793.9 1681.4 L1799.5 1683.1 L1805 1684.8 L1810.6 1686.5 L1816.1 1688.1 L1821.7 1689.8 M1841.2 1695.5 L1846.7 1697.1 L1852.2 1698.7 M1872.7 1704.6 L1878.3 1706.1 L1883.8 1707.7 L1889.4 1709.3 L1895 1710.8 L1900.5 1712.3 L1906.1 1713.9 L1911.6 1715.4 L1917.2 1716.9 M1936.7 1722.2 L1942.2 1723.7 L1947.7 1725.2 M1968.2 1730.6 L1974.1 1732.2 L1980 1733.7 L1985.8 1735.2" fill="none" stroke="#000" stroke-width="7.8" stroke-linejoin="round"/>
<rect x="280.5" y="55.8" width="1793.5" height="4.4" fill="#8e8e8e"/>
<rect x="280.5" y="60.2" width="1797.5" height="4.5" fill="#000"/>
<rect x="280.5" y="64.7" width="1793.5" height="4.1" fill="#7a7a7a"/>
<rect x="280.5" y="1848.8" width="1797.5" height="5.1" fill="#7a7a7a"/>
<rect x="280.5" y="1853.9" width="1797.5" height="4.2" fill="#000"/>
<rect x="280.5" y="1858.1" width="1797.5" height="4.3" fill="#969696"/>
<rect x="2065.1" y="60.2" width="4.1" height="1831.8" fill="#6e6e6e"/>
<rect x="2069.2" y="55.8" width="4.7" height="1836.7" fill="#000"/>
<rect x="2073.9" y="60.2" width="4.1" height="1831.8" fill="#9a9a9a"/>
<rect x="280.5" y="1338" width="1797.5" height="8.8" fill="#000"/>
<rect x="280.5" y="1346.8" width="1793.5" height="4.2" fill="#909090"/>
<rect x="314.8" y="55.8" width="8.8" height="1836.7" fill="#000"/>
<rect x="280.5" y="314.1" width="35.5" height="8.8" fill="#000"/>
<rect x="280.5" y="570.4" width="35.5" height="8.8" fill="#000"/>
<rect x="280.5" y="826.6" width="35.5" height="8.8" fill="#000"/>
<rect x="280.5" y="1082.8" width="35.5" height="8.8" fill="#000"/>
<rect x="280.5" y="1595.3" width="35.5" height="8.8" fill="#000"/>
<rect x="2034.2" y="314.1" width="35.8" height="8.8" fill="#000"/>
<rect x="2034.2" y="570.4" width="35.8" height="8.8" fill="#000"/>
<rect x="2034.2" y="826.6" width="35.8" height="8.8" fill="#000"/>
<rect x="2034.2" y="1082.8" width="35.8" height="8.8" fill="#000"/>
<rect x="2034.2" y="1595.3" width="35.8" height="8.8" fill="#000"/>
<rect x="2034.2" y="55.8" width="35.8" height="13" fill="#3a3a3a"/>
<rect x="2034.2" y="60.2" width="43.8" height="4.3" fill="#000"/>
<rect x="2034.2" y="1848.8" width="35.8" height="13.6" fill="#3a3a3a"/>
<rect x="2034.2" y="1853.2" width="43.8" height="4.9" fill="#000"/>
<rect x="752.9" y="1850" width="8.8" height="42" fill="#000"/>
<rect x="752.9" y="55.8" width="8.8" height="13" fill="#2a2a2a"/>
<rect x="1190.9" y="1850" width="8.8" height="42" fill="#000"/>
<rect x="1190.9" y="55.8" width="8.8" height="13" fill="#2a2a2a"/>
<rect x="1628.9" y="1850" width="8.8" height="42" fill="#000"/>
<rect x="1628.9" y="55.8" width="8.8" height="13" fill="#2a2a2a"/>
<path d="M380.3 1318.5 L461 1278.5 M347.8 1349.7 L447.5 1381" stroke="#444" stroke-width="3.4" fill="none"/>
<path d="M1683.7 1325.4 L1748.8 1162.6" stroke="#cc2a36" stroke-width="3.8" stroke-opacity="0.9" fill="none"/>
<path d="M318.9 1366.5 L345.7 1326.6 L292.1 1326.6Z" fill="#fff" stroke="#858585" stroke-width="4.2" stroke-linejoin="miter"/>
<path d="M318.9 1422.5 L345.7 1384.6 L292.1 1384.6Z" fill="#fff" stroke="#858585" stroke-width="4.2" stroke-linejoin="miter"/><rect x="315.4" y="1395" width="7" height="6" fill="#fff"/>
<path d="M318.9 1308 L346.5 1351 L288.5 1351Z" fill="#000"/>
<path d="M328.3 1131.5 L355.1 1178.3 L301.5 1178.3Z" fill="#fff" stroke="#858585" stroke-width="4.2" stroke-linejoin="miter"/><rect x="324.8" y="1158.5" width="7" height="6" fill="#777"/>
<path d="M361.9 1063 L388.7 1107.6 L335.1 1107.6Z" fill="#fff" stroke="#858585" stroke-width="4.2" stroke-linejoin="miter"/><rect x="358.4" y="1091.5" width="7" height="6" fill="#777"/>
<circle cx="361.9" cy="298" r="24.3" fill="#fff" stroke="#8a8a8a" stroke-width="4.4"/><rect x="358.4" y="295" width="7" height="6" fill="#444"/>
<circle cx="537.1" cy="216" r="24.3" fill="#fff" stroke="#8a8a8a" stroke-width="4.4"/><rect x="533.6" y="213" width="7" height="6" fill="#444"/>
<circle cx="712.3" cy="185.2" r="24.3" fill="#fff" stroke="#8a8a8a" stroke-width="4.4"/><rect x="708.8" y="182.2" width="7" height="6" fill="#444"/>
<circle cx="887.5" cy="180.1" r="24.3" fill="#fff" stroke="#8a8a8a" stroke-width="4.4"/><rect x="884" y="177.1" width="7" height="6" fill="#444"/>
<circle cx="1150.3" cy="154.5" r="24.3" fill="#fff" stroke="#8a8a8a" stroke-width="4.4"/><rect x="1146.8" y="151.5" width="7" height="6" fill="#444"/>
<circle cx="1413.1" cy="144.2" r="24.3" fill="#fff" stroke="#8a8a8a" stroke-width="4.4"/><rect x="1409.6" y="141.2" width="7" height="6" fill="#444"/>
<circle cx="361.9" cy="889.9" r="24.3" fill="#fff" stroke="#8a8a8a" stroke-width="4.4"/><rect x="358.4" y="886.9" width="7" height="6" fill="#444"/>
<circle cx="537.1" cy="799.2" r="24.3" fill="#fff" stroke="#8a8a8a" stroke-width="4.4"/><rect x="533.6" y="796.2" width="7" height="6" fill="#444"/>
<circle cx="712.3" cy="800.2" r="24.3" fill="#fff" stroke="#8a8a8a" stroke-width="4.4"/><rect x="708.8" y="797.2" width="7" height="6" fill="#444"/>
<circle cx="887.5" cy="832" r="24.3" fill="#fff" stroke="#8a8a8a" stroke-width="4.4"/><rect x="884" y="829" width="7" height="6" fill="#444"/>
<circle cx="1150.3" cy="989.9" r="24.3" fill="#fff" stroke="#8a8a8a" stroke-width="4.4"/><rect x="1146.8" y="986.9" width="7" height="6" fill="#444"/>
<circle cx="1413.1" cy="1176.9" r="24.3" fill="#fff" stroke="#8a8a8a" stroke-width="4.4"/><rect x="1409.6" y="1173.9" width="7" height="6" fill="#444"/>
<path d="M1215.4 125.9 H1262.3 V172.8" fill="none" stroke="#dedede" stroke-width="4"/><rect x="1217.6" y="130.1" width="40.6" height="40.6" fill="#fff" stroke="#585858" stroke-width="4.3"/><rect x="1234.4" y="147.4" width="7" height="6" fill="#777"/>
<path d="M1303 149.5 H1350 V196.4" fill="none" stroke="#dedede" stroke-width="4"/><rect x="1305.2" y="153.7" width="40.6" height="40.6" fill="#fff" stroke="#585858" stroke-width="4.3"/><rect x="1322" y="171" width="7" height="6" fill="#777"/>
<path d="M1390.6 137.7 H1437.5 V184.6" fill="none" stroke="#dedede" stroke-width="4"/><rect x="1392.8" y="141.9" width="40.6" height="40.6" fill="#fff" stroke="#585858" stroke-width="4.3"/><rect x="1409.6" y="159.2" width="7" height="6" fill="#777"/>
<path d="M1478.2 124.9 H1525.1 V171.8" fill="none" stroke="#dedede" stroke-width="4"/><rect x="1480.4" y="129.1" width="40.6" height="40.6" fill="#fff" stroke="#585858" stroke-width="4.3"/><rect x="1497.2" y="146.4" width="7" height="6" fill="#777"/>
<path d="M1565.8 119.8 H1612.7 V166.7" fill="none" stroke="#dedede" stroke-width="4"/><rect x="1568" y="124" width="40.6" height="40.6" fill="#fff" stroke="#585858" stroke-width="4.3"/><rect x="1584.8" y="141.2" width="7" height="6" fill="#777"/>
<path d="M1653.4 89 H1700.3 V136" fill="none" stroke="#dedede" stroke-width="4"/><rect x="1655.6" y="93.2" width="40.6" height="40.6" fill="#fff" stroke="#585858" stroke-width="4.3"/><rect x="1672.4" y="110.5" width="7" height="6" fill="#777"/>
<path d="M1215.4 1031 H1262.3 V1077.9" fill="none" stroke="#dedede" stroke-width="4"/><rect x="1217.6" y="1035.2" width="40.6" height="40.6" fill="#fff" stroke="#585858" stroke-width="4.3"/><rect x="1234.4" y="1052.5" width="7" height="6" fill="#777"/>
<path d="M1303 1086.4 H1350 V1133.3" fill="none" stroke="#dedede" stroke-width="4"/><rect x="1305.2" y="1090.5" width="40.6" height="40.6" fill="#fff" stroke="#585858" stroke-width="4.3"/><rect x="1322" y="1107.8" width="7" height="6" fill="#777"/>
<path d="M1390.6 1131.5 H1437.5 V1178.4" fill="none" stroke="#dedede" stroke-width="4"/><rect x="1392.8" y="1135.6" width="40.6" height="40.6" fill="#fff" stroke="#585858" stroke-width="4.3"/><rect x="1409.6" y="1152.9" width="7" height="6" fill="#777"/>
<path d="M1478.2 1226.8 H1525.1 V1273.7" fill="none" stroke="#dedede" stroke-width="4"/><rect x="1480.4" y="1231" width="40.6" height="40.6" fill="#fff" stroke="#585858" stroke-width="4.3"/><rect x="1497.2" y="1248.2" width="7" height="6" fill="#777"/>
<path d="M1565.8 1272.9 H1612.7 V1319.8" fill="none" stroke="#dedede" stroke-width="4"/><rect x="1568" y="1277.1" width="40.6" height="40.6" fill="#fff" stroke="#585858" stroke-width="4.3"/><rect x="1584.8" y="1294.4" width="7" height="6" fill="#777"/>
<path d="M1653.4 1313.9 H1700.3 V1360.8" fill="none" stroke="#dedede" stroke-width="4"/><rect x="1655.6" y="1318.1" width="40.6" height="40.6" fill="#fff" stroke="#585858" stroke-width="4.3"/><rect x="1672.4" y="1335.4" width="7" height="6" fill="#777"/>
<circle cx="1062.7" cy="191.9" r="23.9" fill="#000"/>
<circle cx="1237.9" cy="185.2" r="23.9" fill="#000"/>
<circle cx="1413.1" cy="210.9" r="23.9" fill="#000"/>
<circle cx="1500.7" cy="190.4" r="23.9" fill="#000"/>
<circle cx="1675.9" cy="190.4" r="23.9" fill="#000"/>
<circle cx="1763.5" cy="128.9" r="23.9" fill="#000"/>
<circle cx="1851.1" cy="134" r="23.9" fill="#000"/>
<circle cx="1062.7" cy="866.9" r="23.9" fill="#000"/>
<circle cx="1237.9" cy="993.5" r="23.9" fill="#000"/>
<circle cx="1413.1" cy="1160" r="23.9" fill="#000"/>
<circle cx="1500.7" cy="1234.8" r="23.9" fill="#000"/>
<circle cx="1675.9" cy="1338.9" r="23.9" fill="#000"/>
<circle cx="1763.5" cy="1357.8" r="23.9" fill="#000"/>
<circle cx="1851.1" cy="1409.1" r="23.9" fill="#000"/>
<path d="M1588.3 187.2 L1617.1 216 L1588.3 244.8 L1559.5 216Z" fill="#fff" stroke="#7c7c7c" stroke-width="4.2"/><rect x="1584.8" y="213" width="7" height="6" fill="#666"/>
<path d="M1763.5 207.7 L1792.3 236.5 L1763.5 265.3 L1734.7 236.5Z" fill="#fff" stroke="#7c7c7c" stroke-width="4.2"/><rect x="1760" y="233.5" width="7" height="6" fill="#666"/>
<path d="M1938.7 187.2 L1967.5 216 L1938.7 244.8 L1909.9 216Z" fill="#fff" stroke="#7c7c7c" stroke-width="4.2"/><rect x="1935.2" y="213" width="7" height="6" fill="#666"/>
<path d="M1588.3 1275.2 L1617.1 1304 L1588.3 1332.8 L1559.5 1304Z" fill="#fff" stroke="#7c7c7c" stroke-width="4.2"/><rect x="1584.8" y="1301" width="7" height="6" fill="#666"/>
<path d="M1763.5 1341.9 L1792.3 1370.7 L1763.5 1399.5 L1734.7 1370.7Z" fill="#fff" stroke="#7c7c7c" stroke-width="4.2"/><rect x="1760" y="1367.7" width="7" height="6" fill="#666"/>
<path d="M1938.7 1426.4 L1967.5 1455.2 L1938.7 1484 L1909.9 1455.2Z" fill="#fff" stroke="#7c7c7c" stroke-width="4.2"/><rect x="1935.2" y="1452.2" width="7" height="6" fill="#666"/>
<circle cx="1483.3" cy="556.3" r="17.8" fill="#fff" stroke="#8a8a8a" stroke-width="4.4"/><rect x="1479.8" y="553.3" width="7" height="6" fill="#333"/>
<circle cx="1483.3" cy="620" r="19.6" fill="#000"/>
<rect x="1719.2" y="542.5" width="27.6" height="27.6" fill="#fff" stroke="#3c3c3c" stroke-width="4.6"/><rect x="1729.5" y="553.3" width="7" height="6" fill="#222"/>
<path d="M1733 598.5 L1755.5 620.3 L1733 642 L1710.5 620.3Z" fill="#fff" stroke="#777" stroke-width="4"/><rect x="1729.5" y="617.3" width="7" height="6" fill="#999"/>
<defs><g id="lbl" font-family="'Liberation Sans', Arial, Helvetica, sans-serif">
<text x="180.1" y="82.5" font-size="68.5" textLength="80.5" lengthAdjust="spacingAndGlyphs" xml:space="preserve">25</text>
<text x="180.1" y="338.8" font-size="68.5" textLength="80.2" lengthAdjust="spacingAndGlyphs" xml:space="preserve">20</text>
<text x="185.6" y="595" font-size="68.5" textLength="74.7" lengthAdjust="spacingAndGlyphs" xml:space="preserve">15</text>
<text x="185.6" y="851.3" font-size="68.5" textLength="74.5" lengthAdjust="spacingAndGlyphs" xml:space="preserve">10</text>
<text x="219.9" y="1107.5" font-size="68.5" textLength="39.4" lengthAdjust="spacingAndGlyphs" xml:space="preserve">5</text>
<text x="218.7" y="1363.8" font-size="68.5" textLength="39.6" lengthAdjust="spacingAndGlyphs" xml:space="preserve">0</text>
<text x="195.9" y="1620" font-size="68.5" textLength="27.3" lengthAdjust="spacingAndGlyphs" xml:space="preserve">-</text>
<text x="219.9" y="1620" font-size="68.5" textLength="39.4" lengthAdjust="spacingAndGlyphs" xml:space="preserve">5</text>
<text x="160.9" y="1876.3" font-size="68.5" textLength="27.3" lengthAdjust="spacingAndGlyphs" xml:space="preserve">-</text>
<text x="185.6" y="1876.3" font-size="68.5" textLength="74.5" lengthAdjust="spacingAndGlyphs" xml:space="preserve">10</text>
<text x="299.5" y="1969" font-size="68.5" textLength="39.8" lengthAdjust="spacingAndGlyphs" xml:space="preserve">0</text>
<text x="740.1" y="1969" font-size="68.5" textLength="40.5" lengthAdjust="spacingAndGlyphs" xml:space="preserve">5</text>
<text x="1159.9" y="1969" font-size="68.5" textLength="74.4" lengthAdjust="spacingAndGlyphs" xml:space="preserve">10</text>
<text x="1596.9" y="1969" font-size="68.5" textLength="75" lengthAdjust="spacingAndGlyphs" xml:space="preserve">15</text>
<text x="2030.1" y="1969" font-size="68.5" textLength="78.6" lengthAdjust="spacingAndGlyphs" xml:space="preserve">20</text>
<text x="817.8" y="335.4" font-size="73.5" textLength="682.9" lengthAdjust="spacingAndGlyphs" xml:space="preserve">amorphous (as cast)</text>
<text x="938.6" y="793.7" font-size="73.5" textLength="502.4" lengthAdjust="spacingAndGlyphs" xml:space="preserve">nanocrystalline</text>
<text x="915.6" y="1719.4" font-size="85" textLength="375" lengthAdjust="spacingAndGlyphs" xml:space="preserve">bcc Fe-Si</text>
<text x="826.1" y="2061.8" font-size="74" textLength="376.2" lengthAdjust="spacingAndGlyphs" xml:space="preserve">Si-Content,</text>
<text x="1223.5" y="2061.8" font-size="74" textLength="36.6" lengthAdjust="spacingAndGlyphs" xml:space="preserve" font-style="italic">x</text>
<text x="1298.1" y="2061.8" font-size="74" textLength="179.1" lengthAdjust="spacingAndGlyphs" xml:space="preserve">(at%)</text>
<text x="1343.2" y="474" font-size="69.5" textLength="78.7" lengthAdjust="spacingAndGlyphs" xml:space="preserve">Fe</text>
<text x="1424.5" y="486.7" font-size="41.5" textLength="85.5" lengthAdjust="spacingAndGlyphs" xml:space="preserve">73.5</text>
<text x="1508.1" y="474" font-size="69.5" textLength="84.2" lengthAdjust="spacingAndGlyphs" xml:space="preserve">Cu</text>
<text x="1593.4" y="486.7" font-size="41.5" textLength="18.4" lengthAdjust="spacingAndGlyphs" xml:space="preserve">1</text>
<text x="1612.8" y="474" font-size="69.5" textLength="84.7" lengthAdjust="spacingAndGlyphs" xml:space="preserve">Nb</text>
<text x="1697.8" y="486.7" font-size="41.5" textLength="24.4" lengthAdjust="spacingAndGlyphs" xml:space="preserve">3</text>
<text x="1721.9" y="474" font-size="69.5" textLength="60.4" lengthAdjust="spacingAndGlyphs" xml:space="preserve">Si</text>
<text x="1780.9" y="486.7" font-size="41.5" textLength="19.6" lengthAdjust="spacingAndGlyphs" xml:space="preserve" font-style="italic">x</text>
<text x="1798.9" y="474" font-size="69.5" textLength="47.9" lengthAdjust="spacingAndGlyphs" xml:space="preserve">B</text>
<text x="1844.8" y="486.7" font-size="41.5" textLength="57.6" lengthAdjust="spacingAndGlyphs" xml:space="preserve" font-style="italic">z-x</text>
<text x="1412" y="1127.2" font-size="69.5" textLength="78.7" lengthAdjust="spacingAndGlyphs" xml:space="preserve">Fe</text>
<text x="1493.5" y="1144.5" font-size="41.5" textLength="83.7" lengthAdjust="spacingAndGlyphs" xml:space="preserve">72.5</text>
<text x="1575.2" y="1127.2" font-size="69.5" textLength="86" lengthAdjust="spacingAndGlyphs" xml:space="preserve">Cu</text>
<text x="1662.4" y="1144.5" font-size="41.5" textLength="16.5" lengthAdjust="spacingAndGlyphs" xml:space="preserve">1</text>
<text x="1679.8" y="1127.2" font-size="69.5" textLength="86.6" lengthAdjust="spacingAndGlyphs" xml:space="preserve">Nb</text>
<text x="1765" y="1144.5" font-size="41.5" textLength="26.2" lengthAdjust="spacingAndGlyphs" xml:space="preserve">3</text>
<text x="1789.1" y="1127.2" font-size="69.5" textLength="62.1" lengthAdjust="spacingAndGlyphs" xml:space="preserve">Si</text>
<text x="1849.6" y="1144.5" font-size="41.5" textLength="83.1" lengthAdjust="spacingAndGlyphs" xml:space="preserve">15.5</text>
<text x="1930.1" y="1127.2" font-size="69.5" textLength="46" lengthAdjust="spacingAndGlyphs" xml:space="preserve">B</text>
<text x="1974.2" y="1144.5" font-size="41.5" textLength="26.2" lengthAdjust="spacingAndGlyphs" xml:space="preserve">7</text>
<text x="462.3" y="1301.3" font-size="69.5" textLength="82.3" lengthAdjust="spacingAndGlyphs" xml:space="preserve">Fe</text>
<text x="540.7" y="1318.5" font-size="41.5" textLength="49.8" lengthAdjust="spacingAndGlyphs" xml:space="preserve">84</text>
<text x="586.6" y="1301.3" font-size="69.5" textLength="88.6" lengthAdjust="spacingAndGlyphs" xml:space="preserve">Nb</text>
<text x="673.3" y="1318.5" font-size="41.5" textLength="23.7" lengthAdjust="spacingAndGlyphs" xml:space="preserve">7</text>
<text x="693.3" y="1301.3" font-size="69.5" textLength="48.6" lengthAdjust="spacingAndGlyphs" xml:space="preserve">B</text>
<text x="738.9" y="1318.5" font-size="41.5" textLength="29.9" lengthAdjust="spacingAndGlyphs" xml:space="preserve">9</text>
<text x="449.3" y="1421.2" font-size="69.5" textLength="82.4" lengthAdjust="spacingAndGlyphs" xml:space="preserve">Fe</text>
<text x="527.6" y="1434.5" font-size="41.5" textLength="52.7" lengthAdjust="spacingAndGlyphs" xml:space="preserve">86</text>
<text x="578.1" y="1421.2" font-size="69.5" textLength="84.4" lengthAdjust="spacingAndGlyphs" xml:space="preserve">Cu</text>
<text x="663.3" y="1434.5" font-size="41.5" textLength="18.1" lengthAdjust="spacingAndGlyphs" xml:space="preserve">1</text>
<text x="682.9" y="1421.2" font-size="69.5" textLength="67.8" lengthAdjust="spacingAndGlyphs" xml:space="preserve">Zr</text>
<text x="747.4" y="1434.5" font-size="41.5" textLength="23.1" lengthAdjust="spacingAndGlyphs" xml:space="preserve">7</text>
<text x="768" y="1421.2" font-size="69.5" textLength="47.4" lengthAdjust="spacingAndGlyphs" xml:space="preserve">B</text>
<text x="812.2" y="1434.5" font-size="41.5" textLength="29.9" lengthAdjust="spacingAndGlyphs" xml:space="preserve">6</text>
<text x="1349.2" y="607.3" font-size="66.5" textLength="38.9" lengthAdjust="spacingAndGlyphs" xml:space="preserve" font-style="italic">z</text>
<text x="1397.8" y="607.3" font-size="66.5" textLength="42.2" lengthAdjust="spacingAndGlyphs" xml:space="preserve">=</text>
<text x="1558.3" y="575.4" font-size="55" textLength="103.6" lengthAdjust="spacingAndGlyphs" xml:space="preserve">18.5</text>
<text x="1554.8" y="638.6" font-size="55" textLength="107.2" lengthAdjust="spacingAndGlyphs" xml:space="preserve">22.5</text>
<text x="1806.8" y="575.4" font-size="55" textLength="108.8" lengthAdjust="spacingAndGlyphs" xml:space="preserve">20.5</text>
<text x="1806.8" y="638.6" font-size="55" textLength="108.8" lengthAdjust="spacingAndGlyphs" xml:space="preserve">23.5</text>
<g transform="translate(113.4 1500) rotate(-90) scale(1 1.09)">
<text x="94.6" y="0" font-size="73.6" textLength="226.7" lengthAdjust="spacingAndGlyphs" xml:space="preserve">Magne</text>
<text x="321.9" y="0" font-size="73.6" textLength="95.7" lengthAdjust="spacingAndGlyphs" xml:space="preserve">tos</text>
<text x="420.3" y="0" font-size="73.6" textLength="96.2" lengthAdjust="spacingAndGlyphs" xml:space="preserve">tric</text>
<text x="521.2" y="0" font-size="73.6" textLength="31.5" lengthAdjust="spacingAndGlyphs" xml:space="preserve">ti</text>
<text x="555.6" y="0" font-size="73.6" textLength="103.1" lengthAdjust="spacingAndGlyphs" xml:space="preserve">on,</text>
<text x="683.1" y="0" font-size="73.6" textLength="37.2" lengthAdjust="spacingAndGlyphs" xml:space="preserve" font-style="italic">λ</text>
<text x="717.7" y="22" font-size="48" textLength="20.2" lengthAdjust="spacingAndGlyphs" xml:space="preserve">s</text>
<text x="758.2" y="0" font-size="73.6" textLength="108.4" lengthAdjust="spacingAndGlyphs" xml:space="preserve">(10</text>
<text x="874.3" y="-37" font-size="48" textLength="54.5" lengthAdjust="spacingAndGlyphs" xml:space="preserve">−</text>
<text x="935.8" y="-39.3" font-size="48" textLength="24.5" lengthAdjust="spacingAndGlyphs" xml:space="preserve">6</text>
<text x="959" y="0" font-size="73.6" textLength="27" lengthAdjust="spacingAndGlyphs" xml:space="preserve">)</text>
</g>
</g></defs>
<use href="#lbl" fill="#000" stroke="#fff" stroke-width="2.2" stroke-linejoin="round"/>
<use href="#lbl" fill="#ffbe7a" transform="translate(-2.4 0)" style="mix-blend-mode:multiply"/>
<use href="#lbl" fill="#2aa0f0" transform="translate(2.4 0)" style="mix-blend-mode:multiply"/>
</g>
</svg>
</body>
</html>
